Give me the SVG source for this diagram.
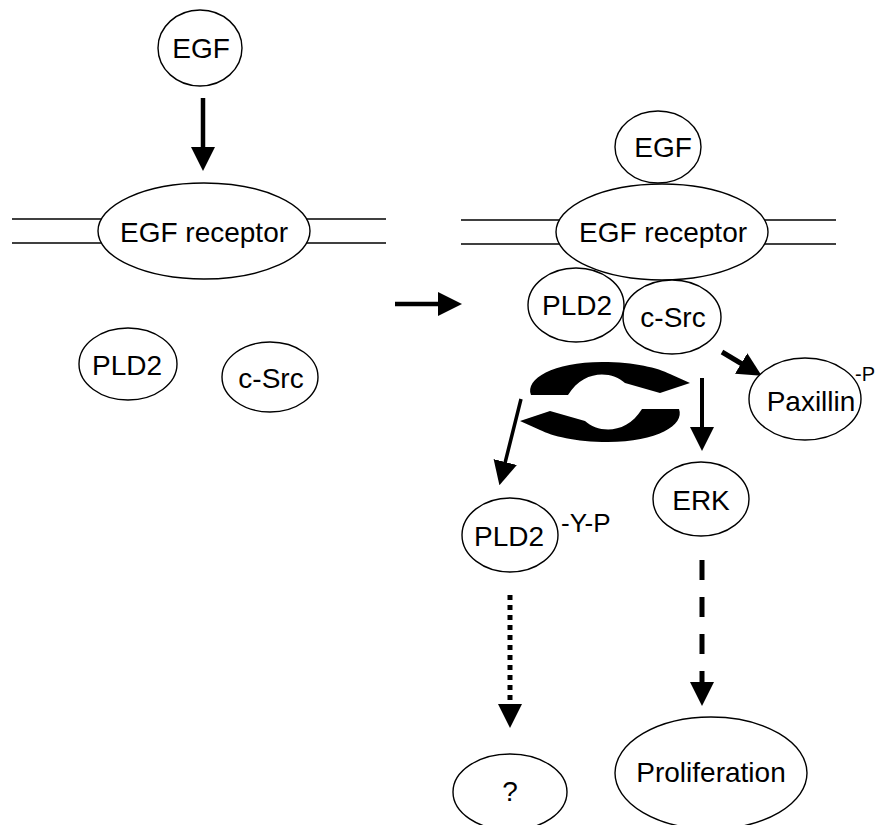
<svg xmlns="http://www.w3.org/2000/svg" width="875" height="825" viewBox="0 0 875 825">
<style>
  .node ellipse { fill: #fff; stroke: #000; stroke-width: 1.4; }
  text { font-family: "Liberation Sans", Arial, sans-serif; font-size: 28px; fill: #000; text-anchor: middle; }
  .sup { text-anchor: start; font-size: 26px; }
  .mem { stroke: #000; stroke-width: 1.3; fill: none; }
  .arr { stroke: #000; fill: none; marker-end: url(#ah); }
  .cyc { fill: #000; stroke: none; }
</style>
<defs>
  <marker id="ah" markerUnits="userSpaceOnUse" markerWidth="24" markerHeight="24" viewBox="0 0 24 24" refX="1" refY="12" orient="auto">
    <path d="M0,0 L24,12 L0,24 Z" fill="#000"/>
  </marker>
</defs>
<rect width="875" height="825" fill="#fff"/>

<g id="membranes">
  <line class="mem" x1="12" y1="219" x2="110" y2="219"/>
  <line class="mem" x1="12" y1="243" x2="110" y2="243"/>
  <line class="mem" x1="300" y1="219" x2="386" y2="219"/>
  <line class="mem" x1="300" y1="243" x2="386" y2="243"/>
  <line class="mem" x1="461" y1="220" x2="570" y2="220"/>
  <line class="mem" x1="461" y1="244" x2="570" y2="244"/>
  <line class="mem" x1="755" y1="220" x2="836" y2="220"/>
  <line class="mem" x1="755" y1="244" x2="836" y2="244"/>
</g>

<g id="connectors">
  <line class="arr" x1="203" y1="98" x2="203" y2="148" stroke-width="4.5"/>
  <line class="arr" x1="395" y1="304" x2="439" y2="304" stroke-width="4.5"/>
  <line class="arr" x1="722" y1="352" x2="742" y2="364" stroke-width="5"/>
  <line class="arr" x1="521" y1="399" x2="505" y2="463" stroke-width="3.5"/>
  <line class="arr" x1="702" y1="378" x2="702" y2="428" stroke-width="4"/>
  <line class="arr" x1="510" y1="595" x2="510" y2="705" stroke-width="5" stroke-dasharray="5 5"/>
  <line class="arr" x1="702" y1="560" x2="702" y2="683" stroke-width="5" stroke-dasharray="20 17"/>
  <g id="cycle">
    <path class="cyc" d="M531,395 C525,379 553,362 602,362 C635,362 658,368 670,374 L690,383 L660,393 L625,383 C612,371 584,369 568,395 Z"/>
    <path class="cyc" transform="rotate(180 605 402)" d="M531,395 C525,379 553,362 602,362 C635,362 658,368 670,374 L690,383 L660,393 L625,383 C612,371 584,369 568,395 Z"/>
  </g>
</g>

<g id="egf-left" class="node"><ellipse cx="200" cy="48" rx="42" ry="38"/><text x="201" y="58">EGF</text></g>
<g id="egfr-left" class="node"><ellipse cx="204" cy="231" rx="106" ry="48"/><text x="204" y="242">EGF receptor</text></g>
<g id="pld2-left" class="node"><ellipse cx="128" cy="364" rx="49" ry="36"/><text x="127" y="375">PLD2</text></g>
<g id="csrc-left" class="node"><ellipse cx="270" cy="377" rx="48" ry="35"/><text x="271" y="388">c-Src</text></g>

<g id="egf-right" class="node"><ellipse cx="658" cy="147" rx="43" ry="36"/><text x="663" y="157">EGF</text></g>
<g id="egfr-right" class="node"><ellipse cx="662" cy="232" rx="106" ry="48"/><text x="663" y="242">EGF receptor</text></g>
<g id="pld2-right" class="node"><ellipse cx="576" cy="305" rx="48" ry="37"/><text x="577" y="315">PLD2</text></g>
<g id="csrc-right" class="node"><ellipse cx="672" cy="317" rx="49" ry="37"/><text x="673" y="327">c-Src</text></g>
<g id="paxillin" class="node"><ellipse cx="805" cy="399" rx="56" ry="41"/><text x="811" y="411">Paxillin</text><text class="sup" x="855" y="381" style="font-size:20px">-P</text></g>
<g id="pld2-yp" class="node"><ellipse cx="510" cy="535" rx="48" ry="37"/><text x="509" y="546">PLD2</text><text class="sup" x="561" y="532">-Y-P</text></g>
<g id="erk" class="node"><ellipse cx="701" cy="499" rx="48" ry="37"/><text x="701" y="510">ERK</text></g>
<g id="unknown" class="node"><ellipse cx="510" cy="792" rx="57" ry="38"/><text x="510" y="801">?</text></g>
<g id="proliferation" class="node"><ellipse cx="711" cy="773" rx="96" ry="56"/><text x="711" y="782">Proliferation</text></g>
</svg>
